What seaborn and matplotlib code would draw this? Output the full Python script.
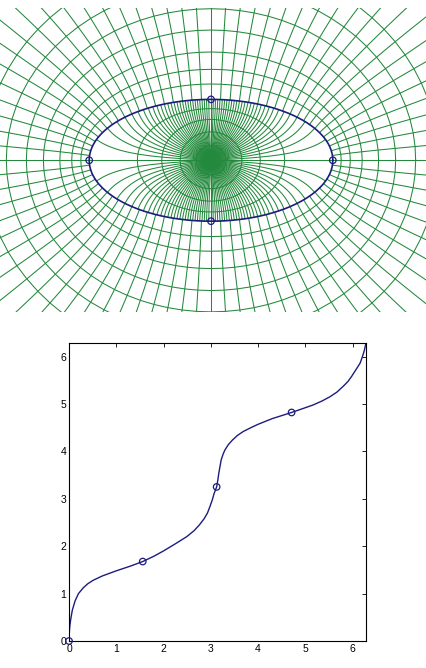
import numpy as np
import pandas as pd
import matplotlib
matplotlib.use("Agg")
import matplotlib.pyplot as plt
import seaborn as sns

sns.set_style("white")
plt.rcParams['font.family'] = ['Liberation Sans', 'DejaVu Sans']

# ---------------- data ----------------
semi_axes = [2.0, 1.0]                      # ellipse a, b
inner_radii = [0.2, 0.4, 0.6, 0.8]          # circles inside the disk
n_inner_rays = 120
outer_radii = [1.13, 1.26, 1.42, 1.63, 1.84, 2.08, 2.35]
n_outer_rays = 80
theta_marks = [0.0, np.pi / 2, np.pi, 3 * np.pi / 2]

# boundary correspondence
corr_x = [0.0, 0.005, 0.015, 0.035, 0.07, 0.13, 0.2, 0.3, 0.4, 0.51, 0.7, 1.0, 1.3,
          1.56, 1.8, 2.0, 2.25, 2.49, 2.65, 2.76, 2.86, 2.93, 2.98, 3.03, 3.07, 3.124,
          3.15, 3.17, 3.195, 3.22, 3.26, 3.30, 3.37, 3.46, 3.57, 3.69, 3.85, 4.0, 4.3,
          4.71, 5.0, 5.17, 5.35, 5.52, 5.67, 5.80, 5.90, 5.98, 6.07, 6.16, 6.21, 6.25,
          6.283]
corr_y = [0.0, 0.15, 0.30, 0.45, 0.65, 0.85, 1.0, 1.12, 1.21, 1.28, 1.37, 1.48, 1.58,
          1.676, 1.79, 1.90, 2.05, 2.20, 2.33, 2.45, 2.58, 2.70, 2.83, 2.97, 3.11, 3.25,
          3.40, 3.54, 3.68, 3.82, 3.94, 4.03, 4.14, 4.24, 4.34, 4.42, 4.50, 4.57, 4.69,
          4.82, 4.92, 4.98, 5.06, 5.15, 5.25, 5.37, 5.47, 5.58, 5.72, 5.86, 6.0, 6.13,
          6.283]
mark_x = [0.0, 1.56, 3.124, 4.71]
mark_y = [0.0, 1.676, 3.25, 4.82]

GREEN = "#23893c"
NAVY = "#1c1c7e"

# ---------------- conformal map machinery ----------------
a_ax, b_ax = semi_axes
c_foc = np.sqrt(a_ax**2 - b_ax**2)
rho = np.arctanh(b_ax / a_ax)


def agm(x, y):
    for _ in range(40):
        x, y = (x + y) / 2, np.sqrt(x * y)
    return x


def Kell(k):
    return np.pi / (2 * agm(1.0, np.sqrt(1 - k * k)))


lo, hi = 1e-6, 1 - 1e-12
target = 4 * rho / np.pi
for _ in range(200):
    mid = (lo + hi) / 2
    ratio = Kell(np.sqrt(1 - mid * mid)) / Kell(mid)
    if ratio > target:
        lo = mid
    else:
        hi = mid
kmod = (lo + hi) / 2
Kk = Kell(kmod)


def RF(x, y, z):
    x = np.asarray(x, complex); y = np.asarray(y, complex); z = np.asarray(z, complex)
    for _ in range(40):
        sx, sy, sz = np.sqrt(x), np.sqrt(y), np.sqrt(z)
        lam = sx * sy + sx * sz + sy * sz
        x, y, z = (x + lam) / 4, (y + lam) / 4, (z + lam) / 4
    A = (x + y + z) / 3
    X = 1 - x / A; Y = 1 - y / A; Z = -(X + Y)
    E2 = X * Y - Z * Z; E3 = X * Y * Z
    return (1 - E2 / 10 + E3 / 14 + E2 * E2 / 24 - 3 * E2 * E3 / 44) / np.sqrt(A)


def fin(zz):
    zz = np.asarray(zz, complex)
    u = zz / np.sqrt(kmod)
    F = u * RF(1 - u * u, 1 - kmod**2 * u * u, np.ones_like(u))
    return c_foc * np.sin(np.pi * F / (2 * Kk))


def fout(zz):
    zz = np.asarray(zz, complex)
    return (c_foc / 2) * (np.exp(rho) * zz + np.exp(-rho) / zz)


rows = []
lid = 0
for j in range(n_inner_rays):
    th = 2 * np.pi * j / n_inner_rays + 1e-9
    r = np.linspace(0, 0.999, 80)
    w = fin(r * np.exp(1j * th))
    rows.append(pd.DataFrame({"x": w.real, "y": w.imag, "id": lid})); lid += 1
for rr in inner_radii:
    th = np.linspace(0, 2 * np.pi, 500) + 1e-9
    w = fin(rr * np.exp(1j * th))
    rows.append(pd.DataFrame({"x": w.real, "y": w.imag, "id": lid})); lid += 1
for j in range(n_outer_rays):
    t = 2 * np.pi * j / n_outer_rays
    R = np.linspace(1, 4, 60)
    w = fout(R * np.exp(1j * t))
    rows.append(pd.DataFrame({"x": w.real, "y": w.imag, "id": lid})); lid += 1
for RR in outer_radii:
    t = np.linspace(0, 2 * np.pi, n_outer_rays + 1)
    w = fout(RR * np.exp(1j * t))
    rows.append(pd.DataFrame({"x": w.real, "y": w.imag, "id": lid})); lid += 1
grid = pd.concat(rows, ignore_index=True)

th_b = np.linspace(0, 2 * np.pi, 800)
wb = fin(np.exp(1j * (th_b + 1e-9)))
bdry = pd.DataFrame({"x": wb.real, "y": wb.imag})
wm = fin(np.exp(1j * (np.array(theta_marks) + 1e-9)))
marks_top = pd.DataFrame({"x": wm.real, "y": wm.imag})

# ---------------- figure ----------------
fig = plt.figure(figsize=(4.26, 6.68), dpi=100)
ax1 = fig.add_axes([0, 0.533, 1, 0.455])
sns.lineplot(data=grid, x="x", y="y", units="id", estimator=None, sort=False,
             color=GREEN, lw=0.75, ax=ax1)
sns.lineplot(data=bdry, x="x", y="y", estimator=None, sort=False, color=NAVY, lw=1.2, ax=ax1)
ax1.scatter(marks_top["x"], marks_top["y"], s=22, facecolors="none", edgecolors=NAVY,
            linewidths=0.9, zorder=5)
ax1.set_xlim(-211 / 61, 215 / 61)
ax1.set_ylim(-2.49, 2.5)
ax1.set_aspect("equal")
ax1.axis("off")

ax2 = fig.add_axes([0.162, 0.0404, 0.697, 0.446])
corr = pd.DataFrame({"x": corr_x, "y": corr_y})
sns.lineplot(data=corr, x="x", y="y", estimator=None, sort=False, color=NAVY, lw=1.0, ax=ax2)
ax2.scatter(mark_x, mark_y, s=22, facecolors="none", edgecolors=NAVY, linewidths=0.9,
            zorder=5, clip_on=False)
ax2.set_xlim(0, 2 * np.pi)
ax2.set_ylim(0, 2 * np.pi)
ax2.set_xticks(range(7)); ax2.set_yticks(range(7))
ax2.set_xlabel(""); ax2.set_ylabel("")
ax2.tick_params(direction="in", length=3, width=0.6, labelsize=7.5, top=True, right=True,
                pad=2, colors="black")
for s in ax2.spines.values():
    s.set_linewidth(0.8); s.set_color("black")

fig.savefig("out.png", dpi=100)
